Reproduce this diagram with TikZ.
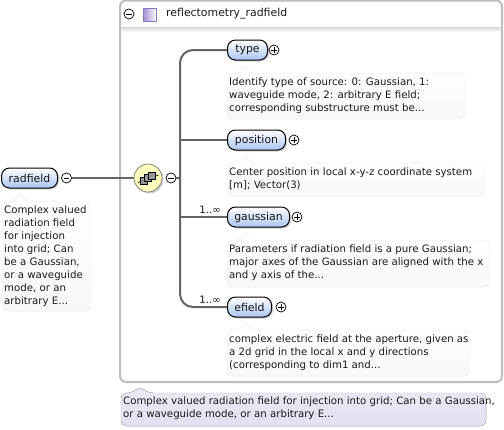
\documentclass[tikz,border=0pt]{standalone}
\usepackage{fontspec}
\setmainfont{DejaVu Sans}
\usetikzlibrary{shadows,calc}
\definecolor{elblue}{RGB}{170,196,240}
\definecolor{linegray}{RGB}{100,100,100}
\definecolor{boxgray}{RGB}{190,190,190}
\definecolor{docline}{RGB}{232,232,232}
\definecolor{docbot}{RGB}{247,247,247}
\definecolor{tipfill}{RGB}{228,224,240}
\definecolor{tipline}{RGB}{185,180,205}
\definecolor{swatchc}{RGB}{165,145,215}
\definecolor{swatchl}{RGB}{140,120,195}
\tikzset{
 x=1pt,y=-1pt,
 txt/.style={font=\fontsize{10.2}{13}\selectfont,text=black!90},
 big/.style={font=\fontsize{10.9}{13}\selectfont,text=black!90},
 elem/.style={draw=black,line width=1pt,rounded corners=8pt,top color=white,bottom color=elblue,minimum height=20pt,inner sep=0pt,anchor=west,big,drop shadow={shadow xshift=1.5pt,shadow yshift=-1.5pt,opacity=.35}},
 doc/.style={draw=docline,top color=white,bottom color=docbot,rounded corners=5pt,anchor=north west,inner sep=0pt},
 tog/.style={circle,draw=black,fill=white,line width=.7pt,minimum size=10pt,inner sep=0pt},
 conn/.style={draw=linegray,line width=2pt},
 glyph/.style={draw=black,fill=black!40,minimum size=7pt,inner sep=0pt}
}
\newcommand{\tog}[3]{\node[tog] (#1) at (#2) {};\draw[line width=.7pt,black] ($(#1)+(-2.8,0)$)--($(#1)+(2.8,0)$);\ifnum#3=1 \draw[line width=.7pt,black] ($(#1)+(0,-2.8)$)--($(#1)+(0,2.8)$);\fi}
\newcommand{\docbox}[6]{% name x y w h text
 \node[doc,minimum width=#4pt,minimum height=#5pt] (#1) at (#2,#3) {};
 \fill[white,draw=docline] (#2+11,#3+.2)--(#2+18,#3-7)--(#2+25,#3+.2);
 \fill[white] (#2+11.5,#3+.1) rectangle (#2+24.5,#3+.9);
 \node[txt,anchor=north west,inner sep=0pt,align=left] at (#2+2,#3+5) {#6};}
\begin{document}
\begin{tikzpicture}
\useasboundingbox (0,0) rectangle (504,429);
\fill[white] (0,0) rectangle (504,429);
% container
\draw[boxgray,line width=2pt,rounded corners=6pt] (120,0.5)--(120,382)--(502,382)--(502,0.5)--cycle;
\shade[top color=black!14,bottom color=white] (121,27.5) rectangle (501,32);
\tog{cont}{129,14}{0}
\node[draw=swatchl,line width=.8pt,left color=swatchc,right color=white,minimum size=13pt,inner sep=0pt] (swatch) at (150,14.5) {};
\node[big,anchor=west,inner sep=0pt] (title) at (166,14) {reflectometry\_radfield};
% root
\node[elem,minimum width=56pt] (radfield) at (1,178) {radfield};
\tog{rootm}{66.5,178}{0}
% compositor
\node[circle,draw=black!60,line width=.6pt,fill=yellow!25,minimum size=28pt,inner sep=0pt,drop shadow={shadow xshift=1.5pt,shadow yshift=-1.5pt,opacity=.35}] (seq) at (148,178) {};
\tog{seqm}{171,178}{0}
% elements
\node[elem,minimum width=40pt] (type) at (227,50) {type};
\node[elem,minimum width=58pt] (position) at (227,140) {position};
\node[elem,minimum width=62pt] (gaussian) at (227,217) {gaussian};
\node[elem,minimum width=44pt] (efield) at (227,307) {efield};
\tog{pa}{274,50}{1}
\tog{pb}{294,140}{1}
\tog{pc}{297,217}{1}
\tog{pd}{281,307}{1}
\coordinate (trunk) at (180,178);
% connectors
\draw[conn] (rootm)--(seq);
\draw[conn] (seqm)--(trunk);
\draw[conn,rounded corners=13pt] (type.west)-|(trunk)|-(efield.west);
\draw[conn] (trunk|-position)--(position.west);
\draw[conn] (trunk|-gaussian)--(gaussian.west);
% sequence glyph
\coordinate (ga) at ($(seq)+(-10,4.5)$);
\coordinate (gb) at ($(seq)+(10.5,-3)$);
\draw[black,line width=.7pt] (ga)--(gb);
\node[glyph] (g1) at ($(seq)+(-4,2.5)$) {};
\node[glyph] (g2) at ($(seq)+(0,-.5)$) {};
\node[glyph] (g3) at ($(seq)+(4,-2.5)$) {};
% cardinalities
\node[txt,anchor=base east,inner sep=0pt] (ca) at (221,213.3) {1..∞};
\node[txt,anchor=base east,inner sep=0pt] (cb) at (221,303.3) {1..∞};
% docs
\docbox{dt}{227}{73}{237}{46}{Identify type of source: 0: Gaussian, 1:\\waveguide mode, 2: arbitrary E field;\\corresponding substructure must be...}
\docbox{dp}{227}{163}{257}{33}{Center position in local x-y-z coordinate system\\{}[m]; Vector(3)}
\docbox{dg}{227}{240}{262}{47}{Parameters if radiation field is a pure Gaussian;\\major axes of the Gaussian are aligned with the x\\and y axis of the...}
\docbox{de}{227}{330}{242}{46}{complex electric field at the aperture, given as\\a 2d grid in the local x and y directions\\(corresponding to dim1 and...}
\docbox{dr}{2}{201}{88}{110}{Complex valued\\radiation field\\for injection\\into grid; Can\\be a Gaussian,\\or a waveguide\\mode, or an\\arbitrary E...}
% tooltip
\filldraw[top color=tipfill!70!white,bottom color=tipfill,draw=tipline,rounded corners=6pt] (121,393)--(133,393)--(140,386)--(147,393)--(486,393)--(486,426)--(121,426)--cycle;
\node[txt,anchor=north west,inner sep=0pt,align=left] (tip) at (123,396.5) {Complex valued radiation field for injection into grid; Can be a Gaussian,\\or a waveguide mode, or an arbitrary E...};
\end{tikzpicture}
\end{document}
